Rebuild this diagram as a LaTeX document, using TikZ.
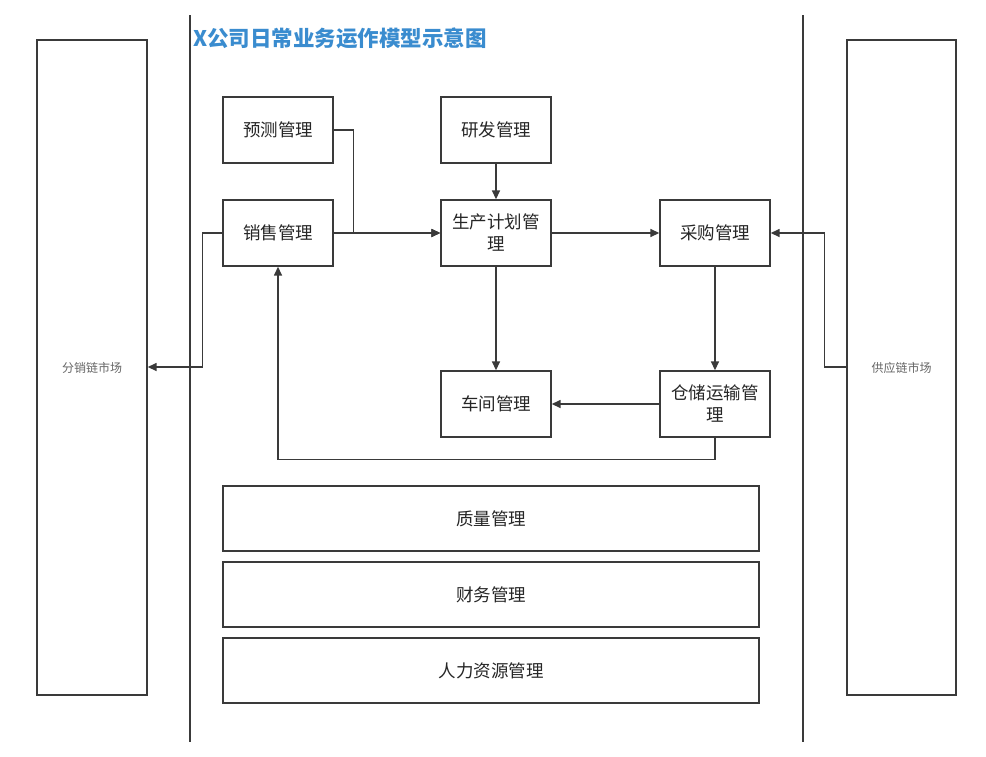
\documentclass[tikz,border=0pt]{standalone}
\usepackage{fontspec}
\newfontfamily\cjk{Noto Sans CJK SC}
\usetikzlibrary{arrows.meta}
\definecolor{linec}{HTML}{3A3A3A}
\definecolor{titleblue}{HTML}{3A8CCF}
\tikzset{
  box/.style={draw=linec,line width=1.4pt,fill=white,inner sep=0pt,font=\cjk\fontsize{17.5}{22}\selectfont,align=center,text=black!85},
  side/.style={draw=linec,line width=1.4pt,inner sep=0pt,font=\cjk\fontsize{12}{14}\selectfont,text=black!60},
  conn/.style={draw=linec,line width=1.5pt,-{Triangle[length=9pt,width=8pt]}},
  plain/.style={draw=linec,line width=1.5pt}
}
\begin{document}
\begin{tikzpicture}[x=1pt,y=-1pt]
\useasboundingbox (0,0) rectangle (986,756);
\fill[white] (0,0) rectangle (986,756);
% vertical separators
\coordinate (v1t) at (190,15); \coordinate (v1b) at (190,742);
\coordinate (v2t) at (803,15); \coordinate (v2b) at (803,742);
\draw[plain] (v1t) -- (v1b);
\draw[plain] (v2t) -- (v2b);
% title
\node[anchor=west,font=\cjk\bfseries\fontsize{21.5}{26}\selectfont,text=titleblue,inner sep=0pt] (title) at (193,38) {X公司日常业务运作模型示意图};
% side boxes
\node[side,minimum width=110pt,minimum height=655pt] (dist) at (92,367.5) {分销链市场};
\node[side,minimum width=109pt,minimum height=655pt] (supp) at (901.5,367.5) {供应链市场};
% boxes
\node[box,minimum width=110pt,minimum height=66pt] (fc) at (278,130) {预测管理};
\node[box,minimum width=110pt,minimum height=66pt] (rd) at (496,130) {研发管理};
\node[box,minimum width=110pt,minimum height=66pt] (sales) at (278,233) {销售管理};
\node[box,minimum width=110pt,minimum height=66pt] (plan) at (496,233) {生产计划管\\理};
\node[box,minimum width=110pt,minimum height=66pt] (buy) at (715,233) {采购管理};
\node[box,minimum width=110pt,minimum height=66pt] (shop) at (496,404) {车间管理};
\node[box,minimum width=110pt,minimum height=66pt] (store) at (715,404) {仓储运输管\\理};
\node[box,minimum width=536pt,minimum height=65pt] (qa) at (491,518.5) {质量管理};
\node[box,minimum width=536pt,minimum height=65pt] (fin) at (491,594.5) {财务管理};
\node[box,minimum width=536pt,minimum height=65pt] (hr) at (491,670.5) {人力资源管理};
% connectors
\draw[conn] (fc.east) -- ++(20,0) |- (plan.west);
\draw[conn] (sales.east) -- (plan.west);
\draw[conn] (rd.south) -- (plan.north);
\draw[conn] (plan.east) -- (buy.west);
\draw[conn] (plan.south) -- (shop.north);
\draw[conn] (buy.south) -- (store.north);
\draw[conn] (store.west) -- (shop.east);
\draw[conn] (store.south) -- ++(0,22) -| (sales.south);
\draw[conn] (supp.west |- 0,367) -- ++(-22,0) |- (buy.east);
\draw[conn] (sales.west) -- ++(-20,0) |- (dist.east |- 0,367);
\end{tikzpicture}
\end{document}
